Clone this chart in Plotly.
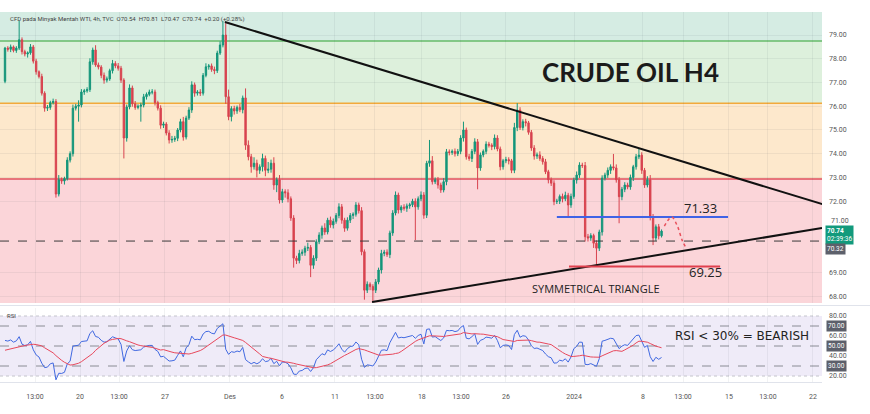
import plotly.graph_objects as go

# ---------------- data ----------------
first_open = 77.05
closes = [
    78.45, 78.40, 78.50, 78.35, 78.45, 78.80, 78.30, 78.20, 78.25, 78.50,
    77.90, 77.45, 77.25, 76.55, 75.92, 75.95, 76.15, 76.20, 72.30, 72.90,
    72.85, 72.95, 73.73, 74.00, 75.92, 76.00, 76.05, 76.60, 76.65, 76.70,
    77.87, 78.37, 77.74, 77.65, 77.30, 77.10, 77.15, 77.50, 77.80, 77.70,
    77.60, 77.10, 74.66, 75.97, 76.77, 76.10, 75.95, 76.00, 76.05, 76.40,
    76.50, 76.60, 76.60, 76.15, 75.92, 75.20, 75.25, 74.87, 74.58, 74.60,
    74.65, 75.00, 75.35, 74.70, 75.50, 75.84, 76.90, 76.55, 76.60, 76.55,
    77.30, 77.66, 77.70, 77.55, 77.50, 78.24, 78.58, 79.00, 76.40, 75.56,
    75.90, 75.80, 75.95, 75.85, 76.35, 74.36, 73.87, 73.45, 73.60, 73.30,
    73.45, 73.80, 73.30, 73.35, 73.60, 72.68, 72.90, 72.05, 72.40, 72.35,
    72.10, 71.29, 69.60, 69.50, 69.80, 69.85, 70.02, 70.05, 69.30, 69.60,
    70.29, 70.57, 70.87, 70.70, 71.20, 71.00, 71.15, 71.40, 71.76, 71.20,
    70.86, 71.20, 71.40, 71.45, 71.84, 71.60, 69.87, 68.25, 68.50, 68.40,
    68.25, 68.60, 69.10, 69.80, 69.85, 69.75, 70.66, 71.50, 72.26, 71.63,
    71.75, 71.70, 71.80, 71.85, 72.00, 71.76, 72.10, 72.26, 71.41, 73.60,
    73.70, 72.82, 72.90, 72.68, 72.47, 72.82, 74.08, 74.05, 74.10, 74.00,
    74.10, 74.66, 75.00, 73.87, 73.80, 74.10, 74.50, 73.40, 73.95, 74.10,
    74.40, 74.36, 74.30, 74.66, 74.20, 73.45, 73.70, 73.75, 73.70, 73.30,
    75.10, 75.84, 75.10, 75.35, 75.30, 74.90, 74.24, 73.90, 73.95, 73.80,
    73.66, 73.24, 72.90, 72.76, 71.98, 72.00, 72.20, 72.10, 72.25, 71.84,
    72.20, 72.89, 73.10, 73.52, 73.50, 70.50, 70.45, 70.55, 70.23, 70.02,
    70.70, 72.97, 73.10, 73.30, 73.45, 73.40, 72.90, 72.19, 72.50, 72.68,
    72.60, 73.00, 73.45, 73.87, 73.94, 73.30, 72.68, 72.90, 71.34, 70.45,
    70.92, 70.54, 70.74,
]
# wick lengths in cents above the body / below the body
upper_wick_c = [
    5, 8, 10, 6, 8, 80, 10, 8, 6, 12,
    8, 10, 6, 12, 8, 10, 8, 12, 10, 20,
    10, 8, 12, 10, 15, 10, 20, 12, 8, 10,
    15, 10, 20, 10, 8, 12, 10, 8, 15, 10,
    12, 10, 8, 10, 15, 10, 12, 8, 10, 12,
    8, 10, 12, 10, 8, 12, 10, 8, 12, 15,
    10, 8, 12, 20, 10, 12, 15, 10, 8, 12,
    10, 15, 8, 10, 12, 10, 15, 60, 50, 30,
    10, 12, 8, 15, 10, 40, 20, 12, 25, 15,
    10, 20, 12, 30, 15, 25, 10, 20, 12, 10,
    15, 10, 12, 10, 15, 12, 10, 20, 10, 12,
    10, 12, 10, 20, 10, 15, 12, 10, 15, 12,
    10, 12, 10, 8, 12, 10, 15, 10, 12, 8,
    10, 12, 10, 15, 10, 12, 10, 12, 15, 10,
    8, 12, 10, 8, 10, 12, 10, 15, 12, 10,
    88, 20, 10, 12, 10, 15, 12, 10, 8, 12,
    10, 12, 35, 10, 12, 10, 15, 12, 10, 8,
    12, 10, 8, 15, 12, 10, 8, 12, 10, 8,
    20, 29, 12, 10, 12, 8, 10, 12, 10, 15,
    10, 12, 8, 10, 12, 10, 8, 12, 15, 10,
    12, 10, 15, 12, 10, 15, 12, 10, 8, 12,
    10, 12, 10, 12, 10, 54, 15, 12, 10, 12,
    10, 12, 8, 12, 30, 12, 10, 15, 20, 12,
    10, 12, 7,
]
lower_wick_c = [
    8, 10, 12, 8, 10, 8, 12, 10, 15, 8,
    10, 12, 8, 10, 15, 12, 10, 8, 15, 10,
    12, 15, 8, 10, 12, 10, 65, 10, 12, 8,
    10, 12, 8, 10, 12, 15, 10, 8, 12, 10,
    10, 12, 86, 15, 10, 12, 10, 8, 65, 10,
    12, 8, 10, 12, 10, 15, 12, 10, 15, 12,
    10, 12, 10, 15, 10, 8, 12, 15, 10, 12,
    10, 8, 12, 10, 15, 10, 8, 10, 30, 15,
    20, 15, 12, 10, 15, 20, 15, 25, 12, 30,
    15, 20, 25, 12, 15, 20, 30, 15, 12, 20,
    15, 12, 40, 15, 12, 10, 15, 12, 50, 15,
    12, 10, 15, 12, 10, 12, 15, 10, 12, 15,
    15, 10, 12, 15, 10, 12, 15, 40, 12, 15,
    45, 12, 10, 15, 12, 10, 15, 12, 10, 15,
    12, 10, 15, 12, 10, 140, 12, 10, 15, 12,
    15, 12, 10, 15, 12, 10, 15, 12, 10, 12,
    10, 12, 15, 12, 10, 15, 12, 90, 12, 10,
    12, 10, 15, 12, 10, 15, 12, 10, 15, 12,
    12, 15, 10, 12, 15, 10, 12, 15, 12, 10,
    12, 10, 15, 12, 15, 10, 12, 15, 10, 50,
    12, 10, 15, 12, 10, 20, 15, 12, 20, 74,
    12, 15, 10, 12, 15, 10, 12, 112, 15, 12,
    10, 12, 15, 12, 10, 15, 12, 10, 15, 30,
    12, 15, 7,
]
rsi_seed_gain, rsi_seed_loss = 0.08, 0.15
rsi_ma_seed = 45.0
rsi_period = 14

tick_idx = [10.6, 26.5, 40.3, 56.5, 79.5, 97.9, 116.6, 130.7, 147.3, 161.1,
            177.0, 201.1, 225.4, 239.6, 255.8, 269.6, 285.5]
tick_text = ["13:00", "20", "13:00", "27", "Des", "6", "11", "13:00", "18", "13:00",
             "26", "2024", "8", "13:00", "15", "13:00", "22"]
price_ticks = [68, 69, 72, 73, 74, 75, 76, 77, 78, 79]
rsi_ticks = [80, 60, 40, 20]
rsi_box_levels = [70, 50, 30]

zone_levels = [78.75, 76.13, 72.93]
upper_tl_x, upper_tl_y = [77.7, 289.8], [79.55, 71.84]
lower_tl_x, lower_tl_y = [129.7, 288.7], [67.75, 70.87]
resist_x, resist_y = [195.0, 255.5], [71.33, 71.33]
support_x, support_y = [199.3, 252.7], [69.25, 69.25]
proj_x = [233.0, 235.6, 237.6, 239.3, 240.8]
proj_y = [70.95, 71.33, 70.95, 70.35, 70.0]
prev_close = 70.32
last_close = closes[-1]

# ---------------- derived ----------------
n = len(closes)
xs = list(range(n))
opens = [first_open] + closes[:-1]
highs = [max(o, c) + u / 100 for o, c, u in zip(opens, closes, upper_wick_c)]
lows = [min(o, c) - l / 100 for o, c, l in zip(opens, closes, lower_wick_c)]

rsi = []
ag, al, prev = rsi_seed_gain, rsi_seed_loss, first_open
for c in closes:
    d = c - prev
    ag = (ag * (rsi_period - 1) + max(d, 0)) / rsi_period
    al = (al * (rsi_period - 1) + max(-d, 0)) / rsi_period
    rsi.append(100 - 100 / (1 + ag / al))
    prev = c
rsi_ma = []
for i in range(n):
    window = rsi[max(0, i - rsi_period + 1): i + 1]
    missing = rsi_period - len(window)
    rsi_ma.append((sum(window) + missing * rsi_ma_seed) / rsi_period)

# ---------------- figure ----------------
UP, DOWN = "#14967a", "#d8434f"
X0, X1 = -1.77, 288.7
Y0, Y1 = 67.71, 79.97
PLOT_W = 822
TOP, BOT = 12, 382


def px(xp):
    return xp / PLOT_W


def py(yp):
    return (BOT - yp) / (BOT - TOP)


fig = go.Figure()
fig.add_trace(go.Candlestick(
    x=xs, open=opens, high=highs, low=lows, close=closes,
    increasing=dict(line=dict(color=UP, width=1), fillcolor=UP),
    decreasing=dict(line=dict(color=DOWN, width=1), fillcolor=DOWN),
    whiskerwidth=0, showlegend=False, hoverinfo="skip", xaxis="x", yaxis="y"))

line_style = dict(mode="lines", showlegend=False, hoverinfo="skip", xaxis="x", yaxis="y")
fig.add_trace(go.Scatter(x=[X0, X1], y=[prev_close, prev_close],
                         line=dict(color="#3a3a3a", width=1, dash="dash"), **line_style))
fig.add_trace(go.Scatter(x=upper_tl_x, y=upper_tl_y, line=dict(color="#111", width=2), **line_style))
fig.add_trace(go.Scatter(x=lower_tl_x, y=lower_tl_y, line=dict(color="#111", width=2), **line_style))
fig.add_trace(go.Scatter(x=resist_x, y=resist_y, line=dict(color="#3f63e6", width=2), **line_style))
fig.add_trace(go.Scatter(x=support_x, y=support_y, line=dict(color="#e0404e", width=2), **line_style))
fig.add_trace(go.Scatter(x=proj_x, y=proj_y, line=dict(color="#e8505c", width=1.5, dash="dot", shape="spline"),
                         **line_style))

fig.add_trace(go.Scatter(x=xs, y=rsi, mode="lines", line=dict(color="#4169e1", width=1),
                         showlegend=False, hoverinfo="skip", xaxis="x2", yaxis="y2"))
fig.add_trace(go.Scatter(x=xs, y=rsi_ma, mode="lines", line=dict(color="#e8485c", width=1),
                         showlegend=False, hoverinfo="skip", xaxis="x2", yaxis="y2"))

shapes = []
bands = [(zone_levels[0], Y1 + 1, "#d5ece3"), (zone_levels[1], zone_levels[0], "#ddf0dc"),
         (zone_levels[2], zone_levels[1], "#fde8cc"), (Y0 - 1, zone_levels[2], "#fbd5d9")]
for lo, hi, col in bands:
    shapes.append(dict(type="rect", xref="x domain", yref="y", x0=0, x1=1, y0=lo, y1=hi,
                       fillcolor=col, line=dict(width=0), layer="below"))
for lvl, col in zip(zone_levels, ["#66bb6a", "#f2a93b", "#e0505e"]):
    shapes.append(dict(type="line", xref="x domain", yref="y", x0=0, x1=1, y0=lvl, y1=lvl,
                       line=dict(color=col, width=1.5), layer="below"))
# RSI pane
shapes.append(dict(type="rect", xref="x2 domain", yref="y2", x0=0, x1=1, y0=20, y1=80,
                   fillcolor="#efebf8", line=dict(width=0), layer="below"))
for lvl in [80, 20]:
    shapes.append(dict(type="line", xref="x2 domain", yref="y2", x0=0, x1=1, y0=lvl, y1=lvl,
                       line=dict(color="#c4c4cc", width=1, dash="dot"), layer="below"))
for lvl in rsi_box_levels:
    shapes.append(dict(type="line", xref="x2 domain", yref="y2", x0=0, x1=1, y0=lvl, y1=lvl,
                       line=dict(color="#8a8c94", width=1, dash="dash"), layer="below"))
# pane separator
shapes.append(dict(type="line", xref="paper", yref="paper", x0=0, x1=1.06, y0=py(305.5), y1=py(305.5),
                   line=dict(color="#e0e3eb", width=1)))


def note(xp, yp, text, size, family="Open Sans", color="#222", xanchor="center", **kw):
    return dict(xref="paper", yref="paper", x=px(xp), y=py(yp), xanchor=xanchor, yanchor="middle",
                text=text, showarrow=False, font=dict(size=size, color=color, family=family), **kw)


ann = [
    note(8, 19, "CFD pada Minyak Mentah WTI, 4h, TVC  O70.54  H70.81  L70.47  C70.74  +0.20 (+0.28%)",
         6, family="Roboto", color="#444", xanchor="left"),
    note(630, 72, "<b>CRUDE OIL H4</b>", 26, family="Lato", color="#1b1b1b"),
    note(700, 208, "71.33", 13),
    note(705, 272, "69.25", 13),
    note(596, 288, "SYMMETRICAL TRIANGLE", 11),
    note(742, 336, "RSI &lt; 30% = BEARISH", 12, family="DejaVu Sans"),
    note(5, 315, "RSI", 6, family="Roboto", color="#444", xanchor="left"),
    # right price scale labels near the live price
    note(829, 221, "71.00", 7, family="Roboto", color="#555", xanchor="left"),
    note(825, 235, f"<b>{last_close:.2f}</b><br>02:39:36", 6.5, family="Roboto", color="white",
         xanchor="left", align="left", bgcolor="#129a7c", borderpad=1),
    note(825, 249, f"{prev_close:.2f}", 6.5, family="Roboto", color="white", xanchor="left",
         bgcolor="#5d606b", borderpad=1),
]
for lvl in rsi_box_levels:
    ann.append(dict(xref="paper", yref="y2", x=px(826), y=lvl, xanchor="left", yanchor="middle",
                    text=f"{lvl:.2f}", showarrow=False, bgcolor="#5d606b", borderpad=1,
                    font=dict(size=6.5, color="white", family="Roboto")))

grid = "rgba(60,70,90,0.07)"
fig.update_layout(
    width=870, height=414, margin=dict(l=0, r=48, t=TOP, b=414 - BOT),
    paper_bgcolor="white", plot_bgcolor="white", showlegend=False,
    shapes=shapes, annotations=ann,
    xaxis=dict(domain=[0, 1], anchor="y", range=[X0, X1], tickvals=tick_idx, ticktext=tick_text,
               showticklabels=False, showgrid=True, gridcolor=grid, zeroline=False,
               rangeslider=dict(visible=False), fixedrange=True),
    xaxis2=dict(domain=[0, 1], anchor="y2", range=[X0, X1], tickvals=tick_idx, ticktext=tick_text,
                showgrid=True, gridcolor=grid, zeroline=False, ticks="", ticklabelstandoff=8,
                tickfont=dict(size=7, color="#555", family="Roboto"), showline=True,
                linecolor="#e0e3eb"),
    yaxis=dict(domain=[py(303), 1], anchor="x", range=[Y0, Y1], side="right", tickvals=price_ticks,
               ticktext=[f"{v:.2f}" for v in price_ticks], showgrid=True, gridcolor=grid,
               zeroline=False, ticks="", ticklabelstandoff=6,
               tickfont=dict(size=7, color="#555", family="Roboto")),
    yaxis2=dict(domain=[0, py(308)], anchor="x2", range=[14, 88], side="right", tickvals=rsi_ticks,
                ticktext=[f"{v:.2f}" for v in rsi_ticks], showgrid=False, zeroline=False, ticks="",
                ticklabelstandoff=6, tickfont=dict(size=7, color="#555", family="Roboto")),
)
fig.write_html("out.html")
